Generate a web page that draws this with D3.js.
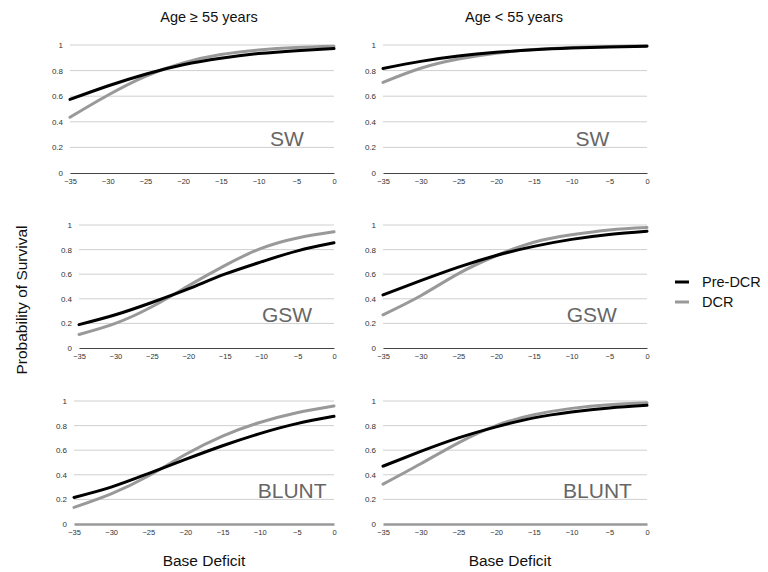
<!DOCTYPE html>
<html>
<head>
<meta charset="utf-8">
<script src="https://cdn.jsdelivr.net/npm/d3@7"></script>
<style>
  body { margin: 0; background: #fff; }
  svg text { font-family: "Liberation Sans", Arial, sans-serif; }
</style>
</head>
<body>
<div id="chart"></div>
<script>
// x values sampled along each curve
const baseDeficit = [-35, -30, -25, -20, -15, -10, -5, 0];
const xTicks = [-35, -30, -25, -20, -15, -10, -5, 0];
const yTicks = [0, 0.2, 0.4, 0.6, 0.8, 1];

const columnTitles = ["Age \u2265 55 years", "Age < 55 years"];
const rowLabels = ["SW", "GSW", "BLUNT"];
const seriesNames = ["Pre-DCR", "DCR"];

// probability of survival
const oldSwPre   = [0.575, 0.68, 0.772, 0.845, 0.896, 0.933, 0.956, 0.972];
const oldSwDcr   = [0.435, 0.607, 0.755, 0.86, 0.925, 0.961, 0.98, 0.99];
const youngSwPre = [0.816, 0.872, 0.914, 0.943, 0.963, 0.976, 0.985, 0.99];
const youngSwDcr = [0.708, 0.818, 0.89, 0.936, 0.964, 0.98, 0.989, 0.994];

const oldGswPre   = [0.19, 0.27, 0.37, 0.48, 0.60, 0.70, 0.79, 0.855];
const oldGswDcr   = [0.11, 0.20, 0.335, 0.505, 0.67, 0.81, 0.895, 0.945];
const youngGswPre = [0.432, 0.547, 0.657, 0.752, 0.826, 0.883, 0.923, 0.95];
const youngGswDcr = [0.27, 0.425, 0.605, 0.75, 0.86, 0.92, 0.96, 0.98];

const oldBluntPre   = [0.216, 0.30, 0.41, 0.525, 0.636, 0.735, 0.816, 0.876];
const oldBluntDcr   = [0.135, 0.245, 0.39, 0.565, 0.715, 0.825, 0.905, 0.96];
const youngBluntPre = [0.47, 0.59, 0.70, 0.79, 0.863, 0.911, 0.944, 0.965];
const youngBluntDcr = [0.324, 0.49, 0.66, 0.80, 0.888, 0.94, 0.97, 0.985];

const colors = { "Pre-DCR": "#000", "DCR": "#999" };

// panel boxes, pixel layout only
const panels = [
  { row: 0, col: 0, left: 70,  right: 334, top: 45,  bottom: 173, pre: oldSwPre,      dcr: oldSwDcr,      labelX: -4 },
  { row: 0, col: 1, left: 383, right: 647, top: 45,  bottom: 173, pre: youngSwPre,    dcr: youngSwDcr,    labelX: -5 },
  { row: 1, col: 0, left: 79,  right: 334, top: 225, bottom: 348, pre: oldGswPre,     dcr: oldGswDcr,     labelX: -3 },
  { row: 1, col: 1, left: 383, right: 647, top: 225, bottom: 348, pre: youngGswPre,   dcr: youngGswDcr,   labelX: -4 },
  { row: 2, col: 0, left: 74,  right: 334, top: 401, bottom: 524, pre: oldBluntPre,   dcr: oldBluntDcr,   labelX: -1 },
  { row: 2, col: 1, left: 383, right: 647, top: 401, bottom: 524, pre: youngBluntPre, dcr: youngBluntDcr, labelX: -2 }
];

const width = 768, height = 572;

const svg = d3.select("#chart").append("svg")
  .attr("width", width)
  .attr("height", height);

panels.forEach(p => {
  const x = d3.scaleLinear().domain([-35, 0]).range([p.left, p.right]);
  const y = d3.scaleLinear().domain([0, 1]).range([p.bottom, p.top]);
  const g = svg.append("g");

  // gridlines
  g.selectAll("line.grid")
    .data(yTicks.filter(d => d > 0))
    .enter().append("line")
    .attr("class", "grid")
    .attr("x1", p.left).attr("x2", p.right)
    .attr("y1", d => y(d)).attr("y2", d => y(d))
    .attr("stroke", "#cfcfcf")
    .attr("stroke-width", 1);

  // y axis labels
  const yAxis = g.append("g")
    .attr("transform", "translate(" + (p.left - 7) + ",0)")
    .call(d3.axisLeft(y).tickValues(yTicks).tickSize(0).tickPadding(0)
      .tickFormat(d => d === 0 || d === 1 ? d3.format("d")(d) : d3.format(".1f")(d)));
  yAxis.select(".domain").remove();
  yAxis.selectAll("text").attr("font-size", 8).attr("fill", "#333");

  // x axis
  const xAxis = g.append("g")
    .attr("transform", "translate(0," + p.bottom + ")")
    .call(d3.axisBottom(x).tickValues(xTicks).tickSize(0).tickPadding(6));
  xAxis.select(".domain")
    .attr("stroke", p.row === 2 ? "#999" : "#444")
    .attr("stroke-width", p.row === 2 ? 2.5 : 1);
  xAxis.selectAll("text").attr("font-size", 7.5).attr("fill", "#333");

  // curves
  const line = d3.line()
    .x((d, i) => x(baseDeficit[i]))
    .y(d => y(d))
    .curve(d3.curveNatural);

  [["DCR", p.dcr], ["Pre-DCR", p.pre]].forEach(([name, vals]) => {
    g.append("path")
      .datum(vals)
      .attr("fill", "none")
      .attr("stroke", colors[name])
      .attr("stroke-width", 3)
      .attr("stroke-linecap", "round")
      .attr("d", line);
  });

  // mechanism label
  g.append("text")
    .attr("x", x(p.labelX))
    .attr("y", y(0.21))
    .attr("text-anchor", "end")
    .attr("font-size", 21)
    .attr("fill", "#666")
    .text(rowLabels[p.row]);
});

// column titles
const titleX = [209, 514];
columnTitles.forEach((t, i) => {
  svg.append("text")
    .attr("x", titleX[i]).attr("y", 22)
    .attr("text-anchor", "middle")
    .attr("font-size", 14.5)
    .attr("fill", "#111")
    .text(t);
});

// x axis titles
[204, 510].forEach(cx => {
  svg.append("text")
    .attr("x", cx).attr("y", 566)
    .attr("text-anchor", "middle")
    .attr("font-size", 15.5)
    .attr("fill", "#111")
    .text("Base Deficit");
});

// y axis title
svg.append("text")
  .attr("transform", "translate(27,300) rotate(-90)")
  .attr("text-anchor", "middle")
  .attr("font-size", 15.5)
  .attr("fill", "#111")
  .text("Probability of Survival");

// legend
const legend = svg.append("g").attr("transform", "translate(675,282)");
seriesNames.forEach((name, i) => {
  const row = legend.append("g").attr("transform", "translate(0," + i * 20 + ")");
  row.append("line")
    .attr("x1", 0).attr("x2", 14)
    .attr("stroke", colors[name])
    .attr("stroke-width", 3);
  row.append("text")
    .attr("x", 27).attr("y", 5)
    .attr("font-size", 14.5)
    .attr("fill", "#111")
    .text(name);
});
</script>
</body>
</html>
